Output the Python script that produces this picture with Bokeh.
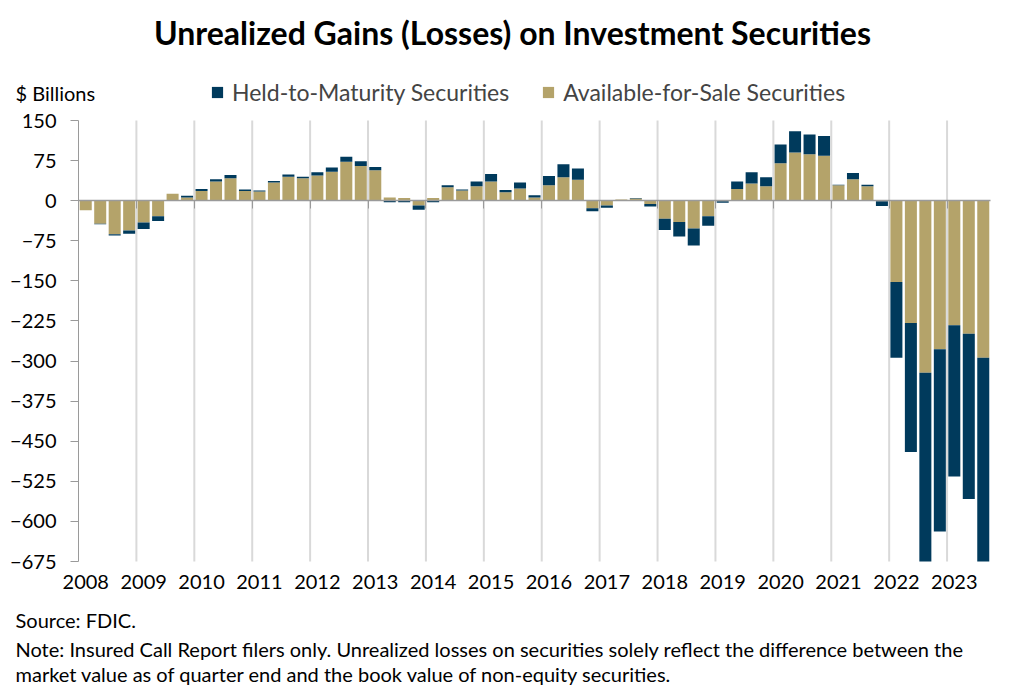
from bokeh.plotting import figure
from bokeh.models import Range1d, FixedTicker, LinearAxis, Label, Legend, LegendItem
from bokeh.embed import file_html
from bokeh.resources import INLINE
import numpy as np

years = [str(y) for y in range(2008, 2024)]

# Available-for-Sale securities, $ billions, quarterly 2008Q1..2023Q3
afs = [-18, -43, -63, -56,
       -41, -29, 13, 6,
       18, 36, 42, 18,
       17, 34, 45, 42,
       47, 54, 73, 65,
       57, 6, 5, -9,
       5, 25, 19, 27,
       36, 16, 23, 6,
       29, 44, 39, -14,
       -9, 2, 4, -6,
       -34, -40, -52, -29,
       -1, 22, 32, 27,
       70, 90, 87, 84,
       29, 40, 27, -1,
       -152, -229, -322, -278,
       -233, -249, -294]

# Held-to-Maturity securities, $ billions
htm = [0, -1, -2, -6,
       -12, -9, 0, 3,
       4, 4, 6, 3,
       2, 3, 4, 3,
       6, 8, 9, 9,
       6, -3, -3, -8,
       -3, 4, 2, 9,
       14, 4, 11, 4,
       17, 24, 21, -6,
       -4, 0, 1, -5,
       -21, -27, -32, -18,
       -3, 14, 21, 17,
       35, 40, 37, 37,
       1, 12, 3, -9,
       -142, -241, -368, -341,
       -283, -309, -390]

Y_MIN, Y_MAX = -675, 150
y_ticks = list(range(Y_MIN, Y_MAX + 1, 75))

FONT = "Lato"
NAVY = "#003A5C"
TAN = "#B4A36A"
GRAY = "#9A9A9A"

# ---- layout (page pixels) ----
W, H = 1015, 686
F_LEFT, F_RIGHT = 78, 990          # value axis left / right end
A_TOP, A_BOT = 120, 561            # axis top (150) / bottom (-675)
ppu = (A_BOT - A_TOP) / (Y_MAX - Y_MIN)
y_start = Y_MIN - (H - A_BOT) / ppu
y_end = Y_MAX + A_TOP / ppu

afs_a = np.array(afs, float)
htm_a = np.array(htm, float)
n = len(afs_a)
qw = (F_RIGHT - F_LEFT) / n
x_start = -F_LEFT / qw
x_end = n + (W - F_RIGHT) / qw

xq = np.arange(n) + 0.5
afs_top = np.maximum(afs_a, 0)
afs_bot = np.maximum(np.minimum(afs_a, 0), Y_MIN)
same = np.sign(htm_a) == np.sign(afs_a)
base = np.where(same, afs_a, 0.0)
htm_bot = np.maximum(np.where(htm_a >= 0, base, base + htm_a), Y_MIN)
htm_top = np.where(htm_a >= 0, base + htm_a, base)

p = figure(width=W, height=H, x_range=Range1d(x_start, x_end), y_range=Range1d(y_start, y_end),
           output_backend="svg", toolbar_location=None,
           min_border_left=0, min_border_right=0, min_border_top=0, min_border_bottom=0)
p.outline_line_color = None
p.background_fill_color = "white"
p.border_fill_color = "white"
p.xgrid.grid_line_color = None
p.ygrid.grid_line_color = None

boundaries = [4 * i for i in range(1, len(years))]
p.segment(x0=boundaries, x1=boundaries, y0=[Y_MIN] * len(boundaries), y1=[Y_MAX] * len(boundaries),
          line_color="#D9D9D9", line_width=2)

r_afs = p.vbar(x=xq, bottom=afs_bot, top=afs_top, width=0.83, fill_color=TAN, line_color=None)
r_htm = p.vbar(x=xq, bottom=htm_bot, top=htm_top, width=0.83, fill_color=NAVY, line_color=None)

# y axis, fixed at the start of the quarters
p.yaxis.fixed_location = 0
p.yaxis.ticker = FixedTicker(ticks=y_ticks)
p.yaxis.bounds = (Y_MIN, Y_MAX)
p.yaxis.axis_line_color = GRAY
p.yaxis.major_tick_line_color = GRAY
p.yaxis.major_tick_out = 8
p.yaxis.major_tick_in = 0
p.yaxis.minor_tick_line_color = None
p.yaxis.major_label_standoff = 14
p.yaxis.major_label_text_font = FONT
p.yaxis.major_label_text_font_size = "20px"
p.yaxis.major_label_text_color = "black"

# x axis (year labels only), fixed at the bottom of the value axis
label_pos = [4 * i + 0.5 for i in range(len(years))]
p.xaxis.fixed_location = Y_MIN
p.xaxis.ticker = FixedTicker(ticks=label_pos)
p.xaxis.major_label_overrides = {pos: yr for pos, yr in zip(label_pos, years)}
p.xaxis.axis_line_color = None
p.xaxis.major_tick_line_color = None
p.xaxis.minor_tick_line_color = None
p.xaxis.major_label_standoff = 7
p.xaxis.major_label_text_font = FONT
p.xaxis.major_label_text_font_size = "20px"
p.xaxis.major_label_text_color = "black"

# zero line axis with year boundary ticks
zero_axis = LinearAxis(fixed_location=0, ticker=FixedTicker(ticks=boundaries),
                       bounds=(0, n),
                       axis_line_color=GRAY, axis_line_width=1.5,
                       major_tick_line_color=GRAY, major_tick_out=8, major_tick_in=0,
                       minor_tick_line_color=None,
                       major_label_overrides={b: "" for b in boundaries})
p.add_layout(zero_axis, "below")

legend = Legend(items=[LegendItem(label="Held-to-Maturity Securities", renderers=[r_htm]),
                       LegendItem(label="Available-for-Sale Securities", renderers=[r_afs])],
                orientation="horizontal", location=(210, H - 106),
                glyph_width=14, glyph_height=14, label_standoff=8, spacing=32,
                padding=0, margin=0, border_line_alpha=0, background_fill_alpha=0,
                label_text_font=FONT, label_text_font_size="23px", label_height=20)
p.add_layout(legend)


def add_text(px, py, text, size, bold=False, align="left"):
    p.add_layout(Label(x=(px - F_LEFT) / qw, y=Y_MIN + (A_BOT - py) / ppu, text=text,
                       text_align=align, text_baseline="middle", text_font=FONT,
                       text_font_style="bold" if bold else "normal",
                       text_font_size=size, text_color="black"))


add_text(512, 32, "Unrealized Gains (Losses) on Investment Securities", "32px", bold=True, align="center")
add_text(15, 92, "$ Billions", "20px")
add_text(15, 619, "Source: FDIC.", "20px")
add_text(15, 648, "Note: Insured Call Report filers only. Unrealized losses on securities solely reflect the difference between the", "20px")
add_text(15, 673, "market value as of quarter end and the book value of non-equity securities.", "20px")

open("out.html", "w").write(file_html(p, INLINE))
